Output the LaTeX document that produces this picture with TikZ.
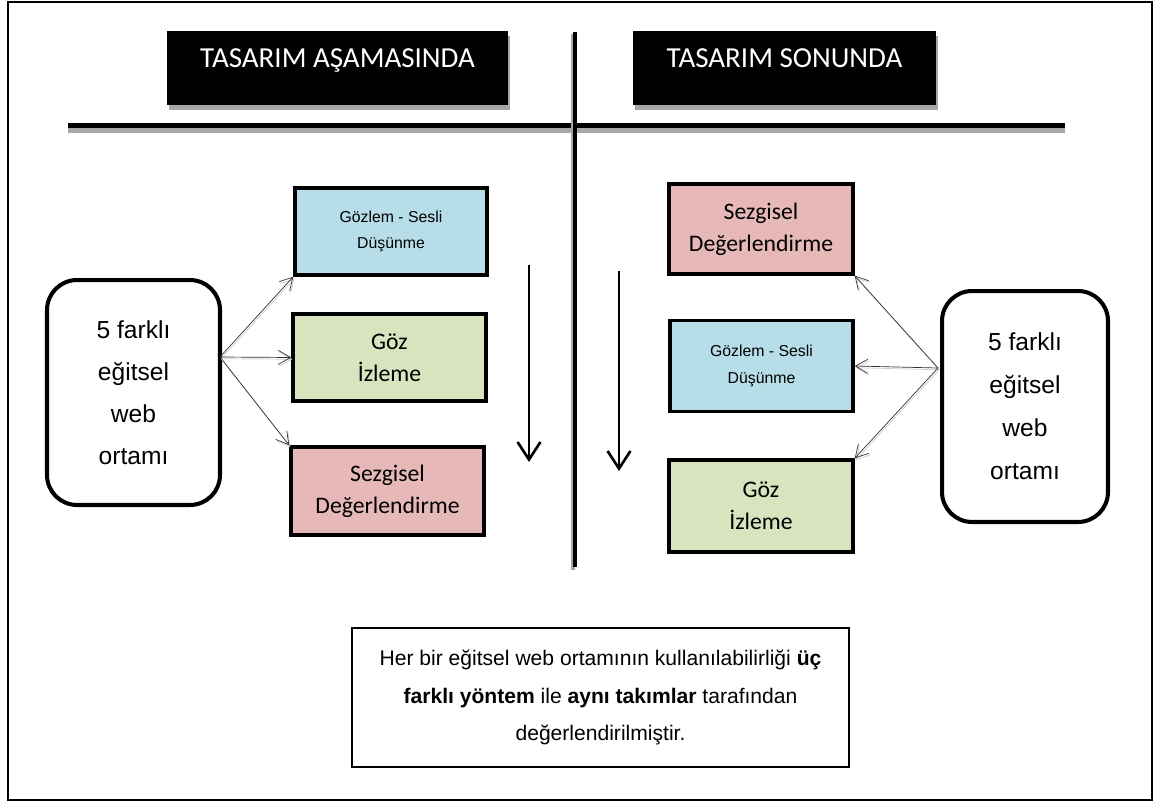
\documentclass[tikz,border=0pt]{standalone}
\usepackage{fontspec}
\setmainfont{Liberation Sans}
\newfontfamily\calibri{Carlito}
\usetikzlibrary{arrows.meta,shadows}

\definecolor{kutumavi}{HTML}{B7DEE8}
\definecolor{kutuyesil}{HTML}{D7E4BD}
\definecolor{kutupembe}{HTML}{E6B9B8}

\begin{document}
\begin{tikzpicture}[x=0.02cm, y=-0.02cm,
  baslik/.style={fill=black, text=white, minimum height=1.48cm, inner sep=0pt,
    text height=12pt, text depth=13pt,
    drop shadow={shadow xshift=1pt, shadow yshift=-3pt, fill=gray!70, opacity=1},
    font=\calibri\fontsize{16.5}{19}\selectfont},
  yontem/.style={draw, line width=2pt, inner sep=0pt, align=center},
  kalibri/.style={font=\calibri\fontsize{13.5}{18}\selectfont},
  arial/.style={font=\fontsize{9}{15}\selectfont},
  ortam/.style={draw, line width=2.3pt, rounded corners=0.6cm, align=center},
  ok/.style={black!80, line width=0.4pt, -{Straight Barb[length=7pt,width=8pt]},
    preaction={draw=gray!40, transform canvas={shift={(0.6pt,-1pt)}}}},
  asagi/.style={line width=1.5pt, -{Straight Barb[length=10pt,width=13pt,line width=1.5pt]}}
]
\useasboundingbox (0,0) rectangle (1158,803);
\draw[line width=1.3pt] (8,2) rectangle (1152,800); % cerceve

% basliklar
\node[baslik, minimum width=6.82cm] (sol) at (337.5,68) {TASARIM AŞAMASINDA};
\node[baslik, minimum width=6.06cm] (sag) at (784.5,68) {TASARIM SONUNDA};

% ayirici cizgiler
\draw[gray!70, line width=2.8pt] (68,130.5) -- (1065,130.5);
\draw[line width=2.8pt] (68,125.5) -- (1065,125.5);
\draw[gray!70, line width=2.8pt] (573,34) -- (573,570);
\draw[line width=2.8pt] (575,32) -- (575,567);

% tasarim asamasinda
\node[ortam, minimum width=3.46cm, minimum height=4.5cm, font=\fontsize{14}{23.8}\selectfont]
  (ortamSol) at (133.5,392.5) {5 farklı\\eğitsel\\web\\ortamı};
\node[yontem, fill=kutumavi, arial, minimum width=3.84cm, minimum height=1.74cm] (gozlemSol) at (391,231.5) {Gözlem - Sesli\\Düşünme};
\node[yontem, fill=kutuyesil, kalibri, minimum width=3.86cm, minimum height=1.74cm] (gozSol) at (389.5,357.5) {Göz\\İzleme};
\node[yontem, fill=kutupembe, kalibri, minimum width=3.86cm, minimum height=1.76cm] (sezgiSol) at (387.5,491) {Sezgisel\\Değerlendirme};
\coordinate (kaynakSol) at (220,357);
\draw[ok] (kaynakSol) -- (gozlemSol.south west);
\draw[ok] (kaynakSol) -- (gozSol.west);
\draw[ok] (kaynakSol) -- (sezgiSol.north west);

% tasarim sonunda
\node[ortam, minimum width=3.32cm, minimum height=4.62cm, font=\fontsize{14}{24.4}\selectfont]
  (ortamSag) at (1025,406.5) {5 farklı\\eğitsel\\web\\ortamı};
\node[yontem, fill=kutupembe, kalibri, minimum width=3.68cm, minimum height=1.8cm] (sezgiSag) at (761,229) {Sezgisel\\Değerlendirme};
\node[yontem, fill=kutumavi, arial, minimum width=3.66cm, minimum height=1.82cm] (gozlemSag) at (761.5,366) {Gözlem - Sesli\\Düşünme};
\node[yontem, fill=kutuyesil, kalibri, minimum width=3.68cm, minimum height=1.84cm] (gozSag) at (761,506) {Göz\\İzleme};
\coordinate (kaynakSag) at (938,368);
\draw[ok] (kaynakSag) -- (sezgiSag.south east);
\draw[ok] (kaynakSag) -- (gozlemSag.east);
\draw[ok] (kaynakSag) -- (gozSag.north east);

% sira oklari
\coordinate (okSolBas) at (529,265);
\coordinate (okSolSon) at (529,462);
\coordinate (okSagBas) at (619,271);
\coordinate (okSagSon) at (619,471);
\draw[asagi] (okSolBas) -- (okSolSon);
\draw[asagi] (okSagBas) -- (okSagSon);

% aciklama
\node[draw, line width=1pt, minimum width=9.94cm, minimum height=2.78cm, align=center,
  font=\fontsize{12}{21.5}\selectfont] (aciklama) at (600.5,697.5)
  {Her bir eğitsel web ortamının kullanılabilirliği \textbf{üç}\\
   \textbf{farklı yöntem} ile \textbf{aynı takımlar} tarafından\\
   değerlendirilmiştir.};
\end{tikzpicture}
\end{document}
